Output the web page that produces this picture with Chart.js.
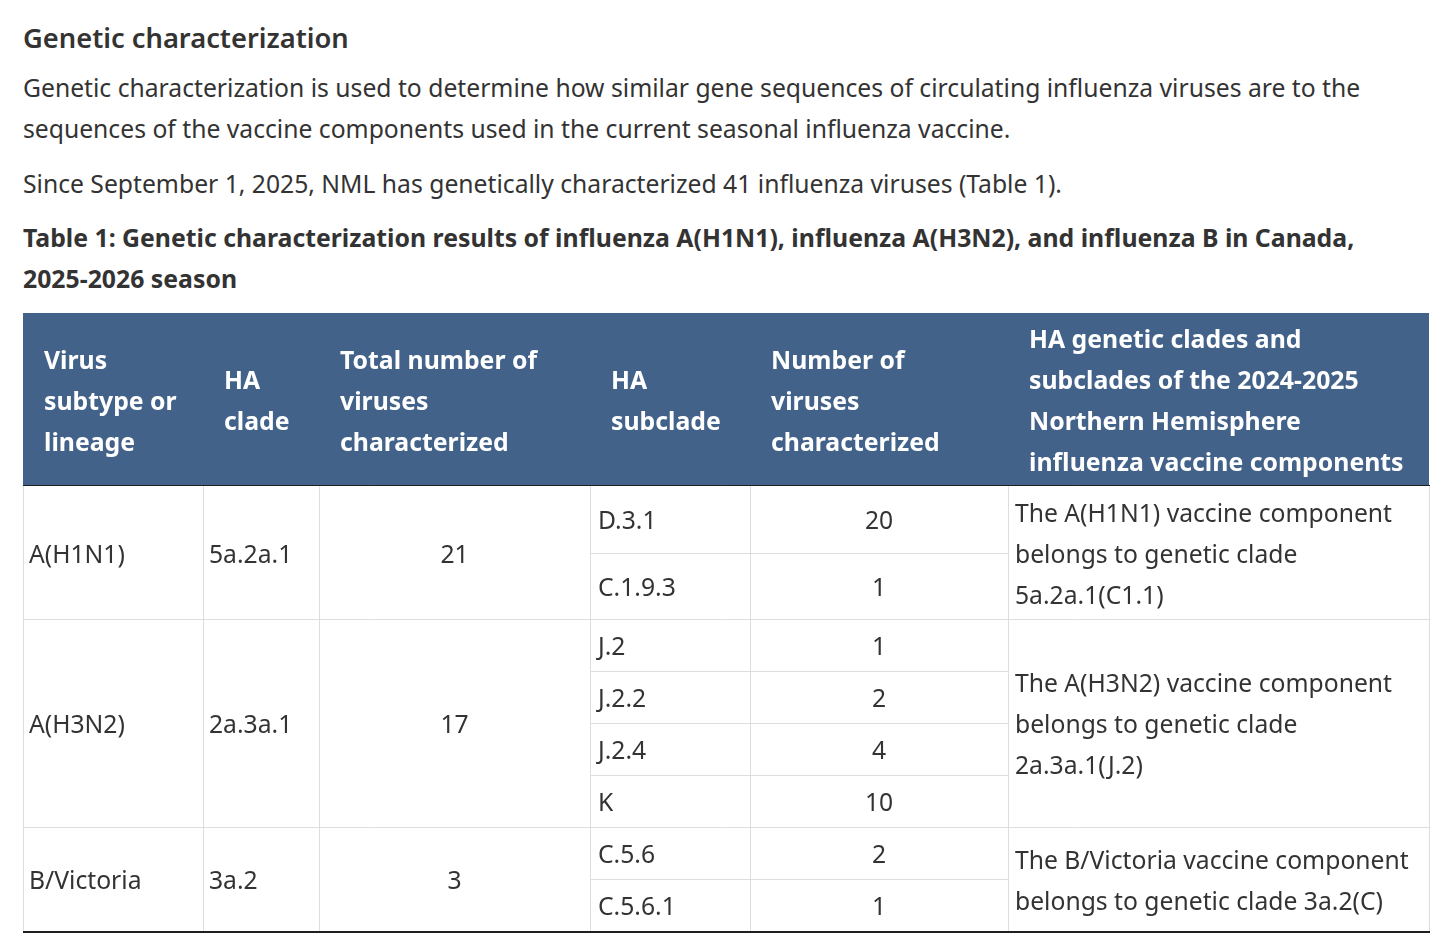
<!DOCTYPE html>
<html>
<head>
  <meta charset="UTF-8">
  <title>Genetic characterization</title>
  <style>
    body {
      margin: 0;
      background: #fff;
      font-family: "Noto Sans", sans-serif;
      color: #333;
    }
    .page {
      padding-left: 23px;
      width: 1406px;
    }
    h2 {
      font-size: 27.3px;
      font-weight: 600;
      line-height: 36px;
      margin: 20px 0 0;
    }
    p {
      font-size: 24.7px;
      line-height: 41px;
      margin: 0;
    }
    .intro { margin-top: 11px; }
    .since { margin-top: 14px; }
    .caption { font-weight: 700; font-size: 24.8px; margin-top: 13px; }
    .nowrap { white-space: nowrap; }
    #tableWrap { margin-top: 14px; }
    #tableChart { display: block; }
  </style>
</head>
<body>
  <div class="page">
    <h2>Genetic characterization</h2>
    <p class="intro">Genetic characterization is used to determine how similar gene sequences of circulating influenza viruses are to the sequences of the vaccine components used in the current seasonal influenza vaccine.</p>
    <p class="since">Since September 1, 2025, NML has genetically characterized 41 influenza viruses (Table 1).</p>
    <p class="caption">Table 1: Genetic characterization results of influenza A(H1N1), influenza A(H3N2), and influenza B in Canada, <span class="nowrap">2025-2026</span> season</p>
    <div id="tableWrap">
      <canvas id="tableChart"></canvas>
    </div>
  </div>

  <script src="https://cdn.jsdelivr.net/npm/chart.js"></script>
  <script>
    const columnHeaders = [
      "Virus subtype or lineage",
      "HA clade",
      "Total number of viruses characterized",
      "HA subclade",
      "Number of viruses characterized",
      "HA genetic clades and subclades of the 2024-2025 Northern Hemisphere influenza vaccine components",
    ];
    const lineages = ["A(H1N1)", "A(H3N2)", "B/Victoria"];
    const haClades = ["5a.2a.1", "2a.3a.1", "3a.2"];
    const totalCharacterized = [21, 17, 3];
    const haSubclades = [["D.3.1", "C.1.9.3"], ["J.2", "J.2.2", "J.2.4", "K"], ["C.5.6", "C.5.6.1"]];
    const subcladeCounts = [[20, 1], [1, 2, 4, 10], [2, 1]];
    const vaccineComponents = [
      "The A(H1N1) vaccine component belongs to genetic clade 5a.2a.1(C1.1)",
      "The A(H3N2) vaccine component belongs to genetic clade 2a.3a.1(J.2)",
      "The B/Victoria vaccine component belongs to genetic clade 3a.2(C)",
    ];

    // layout, in pixels
    const colWidths = [180, 116, 271, 160, 258, 421];
    const colAlign = ["left", "left", "center", "left", "center", "left"];
    const lineH = 41;
    const headPad = 22;
    const cellPad = 7;
    const subRowMin = 52;
    const headFont = "700 24.8px 'Noto Sans'";
    const bodyFont = "400 24.7px 'Noto Sans'";

    const colEdges = [0];
    colWidths.forEach((w) => colEdges.push(colEdges[colEdges.length - 1] + w));
    const tableW = colEdges[colEdges.length - 1];

    function wrap(ctx, text, maxW) {
      const words = text.split(" ");
      const lines = [];
      let cur = "";
      words.forEach((w) => {
        const test = cur ? cur + " " + w : w;
        if (cur && ctx.measureText(test).width > maxW) {
          lines.push(cur);
          cur = w;
        } else {
          cur = test;
        }
      });
      if (cur) lines.push(cur);
      return lines;
    }

    const canvas = document.getElementById("tableChart");
    const mctx = canvas.getContext("2d");

    mctx.font = headFont;
    const headLines = columnHeaders.map((h, i) => wrap(mctx, h, colWidths[i] - 2 * headPad + 4));
    const headerH = Math.max(...headLines.map((l) => l.length)) * lineH + 9;

    mctx.font = bodyFont;
    const vaccineLines = vaccineComponents.map((t) => wrap(mctx, t, colWidths[5] - 2 * cellPad));
    const groupEdges = [headerH];
    lineages.forEach((l, g) => {
      const h = Math.max(haSubclades[g].length * subRowMin, vaccineLines[g].length * lineH + 10);
      groupEdges.push(groupEdges[g] + h);
    });
    const tableH = groupEdges[groupEdges.length - 1];

    canvas.width = tableW + 1;
    canvas.height = tableH + 3;

    function cellText(chart, lines, c, top, bottom, pad, centered) {
      const { ctx, scales: { x, y } } = chart;
      const x0 = x.getPixelForValue(colEdges[c]);
      const x1 = x.getPixelForValue(colEdges[c + 1]);
      const yc = (y.getPixelForValue(top) + y.getPixelForValue(bottom)) / 2;
      ctx.textAlign = centered ? "center" : "left";
      const tx = centered ? (x0 + x1) / 2 : x0 + pad;
      lines.forEach((line, i) => {
        ctx.fillText(line, tx, yc + (i - (lines.length - 1) / 2) * lineH + 10);
      });
    }

    const tablePlugin = {
      id: "tablePlugin",
      afterDraw(chart) {
        const { ctx, scales: { x, y } } = chart;
        const X = (v) => Math.round(x.getPixelForValue(v));
        const Y = (v) => Math.round(y.getPixelForValue(v));
        ctx.save();

        // header
        ctx.fillStyle = "#42628a";
        ctx.fillRect(X(0), Y(0), X(tableW) - X(0), Y(headerH) - Y(0));
        ctx.fillStyle = "#ffffff";
        ctx.font = headFont;
        ctx.textBaseline = "alphabetic";
        headLines.forEach((lines, c) => cellText(chart, lines, c, 0, headerH, headPad - 1, false));

        // grid
        ctx.strokeStyle = "#dedede";
        ctx.lineWidth = 1;
        ctx.beginPath();
        colEdges.forEach((e) => {
          ctx.moveTo(X(e) + 0.5, Y(headerH));
          ctx.lineTo(X(e) + 0.5, Y(tableH));
        });
        groupEdges.slice(1, -1).forEach((e) => {
          ctx.moveTo(X(0), Y(e) + 0.5);
          ctx.lineTo(X(tableW) + 1, Y(e) + 0.5);
        });
        lineages.forEach((l, g) => {
          const sub = (groupEdges[g + 1] - groupEdges[g]) / haSubclades[g].length;
          for (let k = 1; k < haSubclades[g].length; k++) {
            const yy = Y(groupEdges[g] + sub * k) + 0.5;
            ctx.moveTo(X(colEdges[3]), yy);
            ctx.lineTo(X(colEdges[5]), yy);
          }
        });
        ctx.stroke();

        ctx.strokeStyle = "#1f1f1f";
        ctx.beginPath();
        ctx.moveTo(X(0), Y(headerH) - 0.5);
        ctx.lineTo(X(tableW) + 1, Y(headerH) - 0.5);
        ctx.stroke();
        ctx.lineWidth = 2;
        ctx.beginPath();
        ctx.moveTo(X(0), Y(tableH) + 1);
        ctx.lineTo(X(tableW) + 1, Y(tableH) + 1);
        ctx.stroke();

        // body text
        ctx.fillStyle = "#333333";
        ctx.font = bodyFont;
        lineages.forEach((l, g) => {
          const top = groupEdges[g];
          const bottom = groupEdges[g + 1];
          cellText(chart, [l], 0, top, bottom, cellPad - 1, colAlign[0] === "center");
          cellText(chart, [haClades[g]], 1, top, bottom, cellPad - 1, colAlign[1] === "center");
          cellText(chart, [String(totalCharacterized[g])], 2, top, bottom, cellPad, colAlign[2] === "center");
          const sub = (bottom - top) / haSubclades[g].length;
          haSubclades[g].forEach((s, k) => {
            cellText(chart, [s], 3, top + sub * k, top + sub * (k + 1), cellPad + 1, colAlign[3] === "center");
            cellText(chart, [String(subcladeCounts[g][k])], 4, top + sub * k, top + sub * (k + 1), cellPad, colAlign[4] === "center");
          });
          cellText(chart, vaccineLines[g], 5, top, bottom, cellPad, colAlign[5] === "center");
        });

        ctx.restore();
      },
    };

    const tableChart = new Chart(canvas, {
      type: "scatter",
      data: { datasets: [] },
      options: {
        responsive: false,
        animation: false,
        layout: { padding: 0 },
        scales: {
          x: { type: "linear", display: false, min: 0, max: tableW + 1 },
          y: { type: "linear", display: false, min: 0, max: tableH + 3, reverse: true },
        },
        plugins: { legend: { display: false }, tooltip: { enabled: false } },
      },
      plugins: [tablePlugin],
    });
  </script>
</body>
</html>
